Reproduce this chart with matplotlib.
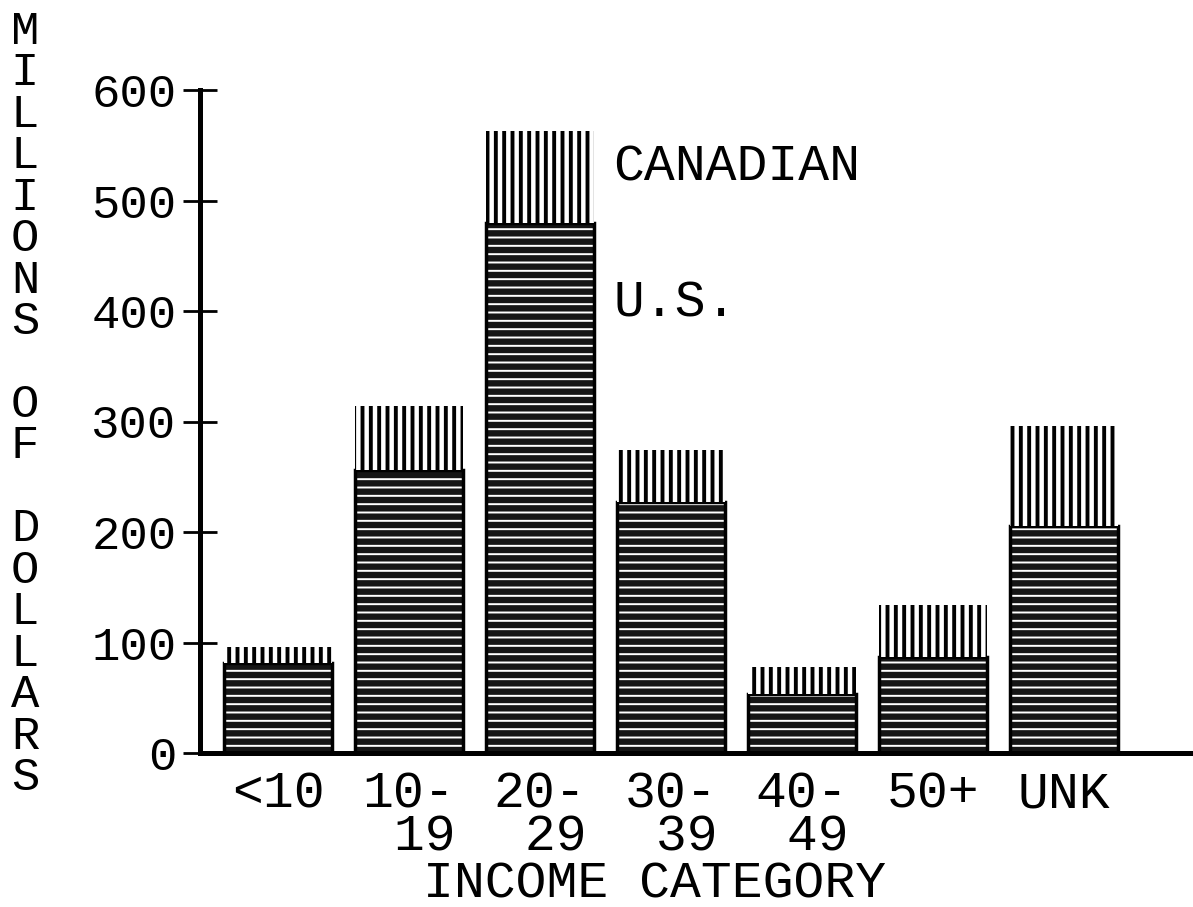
import matplotlib.pyplot as plt

# values (millions of dollars)
categories = ['<10', '10-\n 19', '20-\n 29', '30-\n 39', '40-\n 49', '50+', 'UNK']
us = [81, 256, 480, 227, 53, 87, 205]
canadian = [15, 58, 83, 47, 25, 47, 91]
yticks = [0, 100, 200, 300, 400, 500, 600]
ylabel_text = 'MILLIONS OF DOLLARS'

plt.rcParams['font.family'] = ['Liberation Mono', 'DejaVu Sans Mono']

fig = plt.figure(figsize=(11.93, 9.07), dpi=100)
ax = fig.add_axes([200 / 1193, (907 - 753) / 907, 993 / 1193, 663 / 907])

x = list(range(len(categories)))
width = 0.82

# U.S. part: dark noisy fill -> black with white streaks
plt.rcParams['hatch.linewidth'] = 1.4
ax.bar(x, us, width=width, color='#151515', edgecolor='white', hatch='--', linewidth=0)
ax.bar(x, us, width=width, fill=False, edgecolor='black', linewidth=2.5)

# Canadian part: vertical lines on white
plt.rcParams['hatch.linewidth'] = 2.8
ax.bar(x, canadian, width=width, bottom=us, color='white', edgecolor='black',
       hatch='||', linewidth=0)

ax.set_xlim(-0.595, 6.985)
ax.set_ylim(0, 600)

for side in ['top', 'right']:
    ax.spines[side].set_visible(False)
ax.spines['left'].set_linewidth(3.6)
ax.spines['bottom'].set_linewidth(3.6)

ax.set_yticks(yticks)
ax.set_yticklabels([str(v) for v in yticks])
ax.tick_params(axis='y', direction='inout', length=24, width=2, pad=5, labelsize=34)
ax.set_xticks(x)
ax.set_xticklabels(categories, multialignment='left', linespacing=0.85)
ax.tick_params(axis='x', length=0, pad=12, labelsize=37)

# legend written beside the tallest bar
tx = 2 + width / 2 + 0.15
ax.text(tx, 530, 'CANADIAN', ha='left', va='center', fontsize=37)
ax.text(tx, 407, 'U.S.', ha='left', va='center', fontsize=37)

ax.set_xlabel('INCOME CATEGORY', fontsize=37)
ax.xaxis.set_label_coords((655 - 200) / 993, -0.16)

# stacked upright letters for the y title
fig.text(25 / 1193, 1 - 10 / 907, '\n'.join(ylabel_text), ha='center', va='top',
         fontsize=34, linespacing=0.925)

plt.savefig('out.png', dpi=100)
